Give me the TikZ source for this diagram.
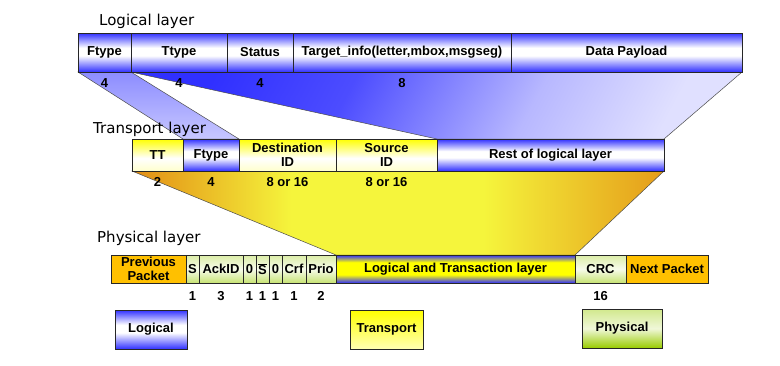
\documentclass[tikz,border=0pt]{standalone}
\usepackage{fontspec}
\setmainfont{Liberation Sans}
\newfontfamily\layerfont{DejaVu Sans}
\usetikzlibrary{positioning}

\definecolor{cellblue}{RGB}{48,48,255}
\definecolor{cellyel}{RGB}{255,255,0}
\definecolor{cellgrn}{RGB}{153,204,0}
\definecolor{pktorange}{RGB}{255,192,0}
\definecolor{trorange}{RGB}{226,140,20}
\definecolor{tryellow}{RGB}{245,245,60}

\pgfdeclareverticalshading{logshade}{100bp}{color(0bp)=(cellblue); color(25bp)=(cellblue); color(46bp)=(white); color(56bp)=(white); color(75bp)=(cellblue); color(100bp)=(cellblue)}
\pgfdeclareverticalshading{trnshade}{100bp}{color(0bp)=(cellyel!20!white); color(25bp)=(cellyel!20!white); color(45bp)=(white); color(75bp)=(cellyel); color(100bp)=(cellyel)}
\pgfdeclareverticalshading{physhade}{100bp}{color(0bp)=(cellgrn!55!white); color(25bp)=(cellgrn!55!white); color(50bp)=(white!92!cellgrn); color(75bp)=(cellgrn!35!white); color(100bp)=(cellgrn!35!white)}
\pgfdeclareverticalshading{ltshade}{100bp}{color(0bp)=(cellblue); color(25bp)=(cellblue); color(40bp)=(cellyel); color(62bp)=(cellyel); color(75bp)=(cellblue); color(100bp)=(cellblue)}
\pgfdeclarehorizontalshading{funnel}{100bp}{color(0bp)=(trorange); color(25bp)=(trorange); color(40bp)=(tryellow); color(58bp)=(tryellow); color(75bp)=(trorange!85!tryellow); color(100bp)=(trorange!85!tryellow)}
\pgfdeclarehorizontalshading{bluefan}{100bp}{color(0bp)=(cellblue); color(25bp)=(cellblue); color(40bp)=(blue!70!white); color(60bp)=(blue!28!white); color(75bp)=(blue!12!white); color(100bp)=(blue!12!white)}

\pgfdeclarelayer{background}
\pgfsetlayers{background,main}

\begin{document}
\begin{tikzpicture}[x=1pt, y=-1pt,
  cell/.style={draw=black!85, line width=0.7pt, inner sep=0pt, outer sep=0pt,
               align=center, font=\fontsize{13}{14}\selectfont\bfseries},
  lg/.style={cell, shade, shading=logshade, minimum height=39pt},
  tp/.style={cell, shade, shading=trnshade, minimum height=32pt},
  tl/.style={cell, shade, shading=logshade, minimum height=32pt},
  ph/.style={cell, shade, shading=physhade, minimum height=28pt},
  pk/.style={cell, fill=pktorange, minimum height=28pt},
  lt/.style={cell, shade, shading=ltshade, minimum height=28pt},
  num/.style={inner sep=0pt, font=\fontsize{13}{14}\selectfont\bfseries},
  ttl/.style={inner sep=0pt, anchor=base west, font=\layerfont\fontsize{15}{18}\selectfont},
  key/.style={cell, minimum height=39pt},
  fan/.style={draw=black!70, line width=0.5pt}
]
\useasboundingbox (0,0) rectangle (780,365);

% logical layer
\node[ttl] (tlog) at (99,25) {Logical layer};
\node[lg, minimum width=53pt, anchor=west] (lf1) at (78,52.5) {Ftype};
\node[lg, minimum width=96pt, right=0pt of lf1] (lf2) {Ttype};
\node[lg, minimum width=66pt, right=0pt of lf2] (lf3) {Status};
\node[lg, minimum width=218pt, right=0pt of lf3] (lf4) {Target\_info(letter,mbox,msgseg)};
\node[lg, minimum width=231pt, right=0pt of lf4] (lf5) {Data Payload};
\node[num, below=6pt of lf1] {4};
\node[num, below=6pt of lf2] {4};
\node[num, below=6pt of lf3] {4};
\node[num, below=6pt of lf4] {8};

% transport layer
\node[tp, minimum width=51pt, anchor=west] (tf1) at (132,155) {TT};
\node[tl, minimum width=56pt, right=0pt of tf1] (tf2) {Ftype};
\node[tp, minimum width=97pt, right=0pt of tf2] (tf3) {Destination\\ID};
\node[tp, minimum width=101pt, right=0pt of tf3] (tf4) {Source\\ID};
\node[tl, minimum width=227pt, right=0pt of tf4] (tf5) {Rest of logical layer};
\node[num, below=6.5pt of tf1] {2};
\node[num, below=6.5pt of tf2] {4};
\node[num, below=6.5pt of tf3] {8 or 16};
\node[num, below=6.5pt of tf4] {8 or 16};

% physical layer
\node[pk, minimum width=75pt, anchor=west] (pf1) at (111,269) {Previous\\Packet};
\node[ph, minimum width=13pt, right=0pt of pf1] (pf2) {S};
\node[ph, minimum width=44pt, right=0pt of pf2] (pf3) {AckID};
\node[ph, minimum width=13pt, right=0pt of pf3] (pf4) {0};
\node[ph, minimum width=13pt, right=0pt of pf4] (pf5) {$\overline{\hbox{S}}$};
\node[ph, minimum width=13pt, right=0pt of pf5] (pf6) {0};
\node[ph, minimum width=24pt, right=0pt of pf6] (pf7) {Crf};
\node[ph, minimum width=30pt, right=0pt of pf7] (pf8) {Prio};
\node[lt, minimum width=239pt, right=0pt of pf8] (pf9) {Logical and Transaction layer};
\node[ph, minimum width=51pt, right=0pt of pf9] (pf10) {CRC};
\node[pk, minimum width=82pt, right=0pt of pf10] (pf11) {Next Packet};
\foreach \c in {2,...,8,10}
  \node[num, below=8pt of pf\c] {\ifcase\c\or\or 1\or 3\or 1\or 1\or 1\or 1\or 2\or\or 16\fi};

% funnels between the layers
\begin{pgfonlayer}{background}
\path[fan, top color=blue!45!white, bottom color=blue!22!white]
  (lf1.south west) -- (lf1.south east) -- (tf2.north east) -- (tf2.north west) -- cycle;
\path[fan, shade, shading=bluefan, shading angle=-28]
  (lf2.south west) -- (lf5.south east) -- (tf5.north east) -- (tf5.north west) -- cycle;
\path[fan, shade, shading=funnel]
  (tf1.south west) -- (tf5.south east) -- (pf9.north east) -- (pf9.north west) -- cycle;
\end{pgfonlayer}

\node[ttl] (ttrn) at (93,133) {Transport layer};
\node[ttl] (tphy) at (97,242) {Physical layer};

% legend
\node[key, shade, shading=logshade, minimum width=72pt] (klog) at (151,329.5) {Logical};
\node[key, top color=cellyel, bottom color=cellyel!30!white, minimum width=73pt] (ktrn) at (386.5,329.5) {Transport};
\node[key, top color=cellgrn!45!white, bottom color=cellgrn, middle color=white!85!cellgrn, minimum width=80pt] (kphy) at (622,328.5) {Physical};
\end{tikzpicture}
\end{document}
